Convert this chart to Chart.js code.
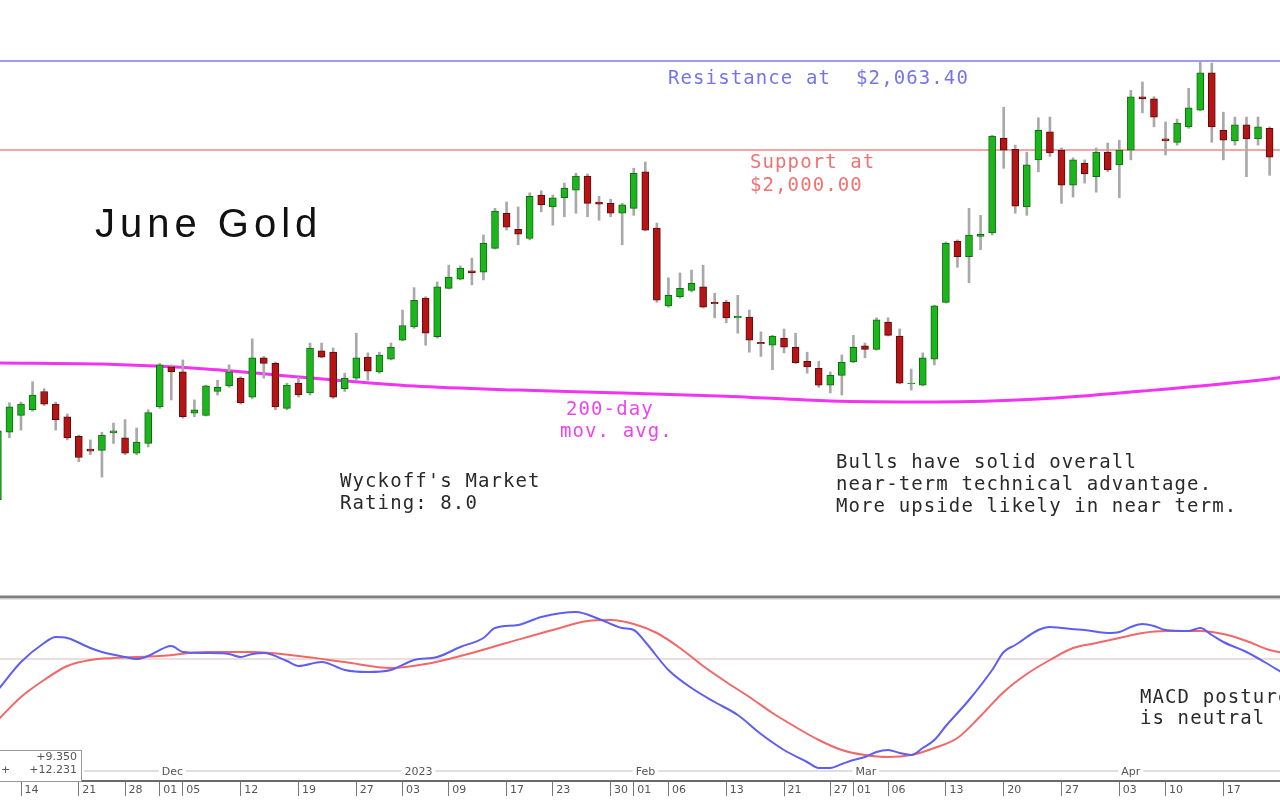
<!DOCTYPE html>
<html>
<head>
<meta charset="utf-8">
<script src="https://cdn.jsdelivr.net/npm/chart.js@4.4.0/dist/chart.umd.min.js"></script>
<style>
  html, body { margin: 0; padding: 0; background: #fff; }
  canvas { display: block; }
</style>
</head>
<body>
<canvas id="goldChart" width="1280" height="805"></canvas>
<script>
// June gold daily bars, Nov 10 2022 .. Apr 21 2023 (one entry per trading day)
const opens = [1751, 1799, 1811, 1815, 1828, 1819, 1810, 1796, 1787, 1786,
  1798.5, 1795, 1784, 1791, 1817, 1845.5, 1842, 1812.5, 1811, 1828,
  1832, 1837.5, 1824, 1852, 1848, 1816, 1834, 1827, 1857, 1856,
  1830, 1837.5, 1852.5, 1842, 1851, 1864.5, 1874, 1894.5, 1867, 1901.5,
  1908, 1914, 1913, 1930, 1955, 1943.5, 1937, 1968, 1959.5, 1966,
  1971.5, 1981.5, 1963, 1962, 1955, 1958.5, 1984.5, 1944.5, 1889, 1895.5,
  1900, 1902.5, 1891.5, 1891.5, 1880.5, 1881, 1863, 1861, 1866, 1859.5,
  1849.5, 1844.5, 1832.5, 1839.5, 1849, 1860.5, 1858, 1877.5, 1867.5, 1833.5,
  1832.5, 1851, 1891.5, 1935, 1924, 1938.5, 1941, 2008.5, 2000.5, 1959.5,
  1993, 2013, 2000, 1975, 1990.5, 1981, 1998.5, 1989.5, 2000, 2038,
  2036.5, 2008, 2005.5, 2016.5, 2028.5, 2055, 2014, 2006.5, 2018, 2008,
  2015.5];
const highs = [1802, 1820, 1820.5, 1835, 1830, 1820.5, 1812, 1797, 1793.5, 1799,
  1805.5, 1808, 1802, 1815, 1848, 1847, 1850.5, 1822, 1832.5, 1836,
  1847, 1838.5, 1865.5, 1853, 1849, 1834, 1838, 1862.5, 1862.5, 1859,
  1841, 1869.5, 1855.5, 1856, 1862.5, 1886, 1902, 1895.5, 1906, 1918,
  1917.5, 1923, 1939.5, 1958.5, 1963, 1959.5, 1969.5, 1971, 1968, 1976.5,
  1983.5, 1983, 1967, 1965, 1962, 1987, 1991.5, 1948, 1909, 1912.5,
  1914.5, 1918, 1898, 1893, 1896.5, 1886, 1870.5, 1868, 1872.5, 1869.5,
  1856, 1849.5, 1842, 1854, 1868, 1862.5, 1880.5, 1880.5, 1872.5, 1844,
  1855.5, 1889.5, 1934.5, 1936, 1958.5, 1953.5, 2010.5, 2030.5, 2003.5, 1998.5,
  2023, 2023.5, 2001.5, 1994.5, 1993, 2001.5, 2005, 2007, 2042.5, 2048.5,
  2038, 2020, 2022, 2044, 2063, 2062, 2027, 2023.5, 2023.5, 2023.5,
  2016.5];
const lows = [1749, 1795, 1800.5, 1814, 1818, 1800.5, 1793.5, 1778, 1783, 1767,
  1791, 1783, 1783, 1788.5, 1816, 1822, 1809, 1810, 1810.5, 1825.5,
  1831, 1819, 1823, 1837.5, 1815, 1815, 1824, 1825.5, 1852, 1823,
  1828, 1836, 1836, 1841, 1850.5, 1864, 1873, 1861, 1866, 1901,
  1907.5, 1904, 1907.5, 1929.5, 1943, 1932.5, 1936, 1956, 1946.5, 1952.5,
  1955, 1952.5, 1950, 1952.5, 1932.5, 1953.5, 1942.5, 1891.5, 1888, 1894.5,
  1899, 1887.5, 1880.5, 1877, 1869.5, 1856, 1853, 1843.5, 1855.5, 1848,
  1841, 1831, 1827, 1825.5, 1848.5, 1852, 1857.5, 1867.5, 1833.5, 1829,
  1832, 1847, 1891, 1916.5, 1905.5, 1929, 1939.5, 1987, 1955, 1953.5,
  1984.5, 1995.5, 1962, 1966.5, 1976.5, 1970, 1984.5, 1966, 1993, 2026.5,
  2016.5, 1996.5, 2003.5, 2015.5, 2028, 2005.5, 1993, 2003.5, 1981, 2003.5,
  1982];
const closes = [1800, 1817, 1819, 1825.5, 1819, 1808, 1795, 1781, 1785.5, 1797,
  1800, 1784, 1792, 1813, 1847, 1842, 1810, 1815, 1832, 1831,
  1842, 1820, 1852, 1848, 1817, 1832.5, 1825.5, 1859, 1852.5, 1824,
  1837.5, 1852, 1842.5, 1854, 1859.5, 1875, 1893, 1869.5, 1902.5, 1909.5,
  1916, 1912.5, 1933.5, 1956.5, 1945, 1940, 1967, 1961, 1966, 1973,
  1981.5, 1962, 1961.5, 1955, 1961, 1983.5, 1943, 1893, 1896.5, 1901.5,
  1905, 1888, 1890.5, 1880.5, 1881.5, 1864.5, 1862, 1867.5, 1859.5, 1848.5,
  1845.5, 1832.5, 1839.5, 1849, 1859.5, 1858, 1879, 1868, 1834, 1834,
  1852, 1889, 1933.5, 1924, 1939.5, 1940, 2010, 2000, 1960, 1989.5,
  2014, 1998, 1975, 1993, 1983, 1998.5, 1986, 2000, 2038, 2036.5,
  2023.5, 2006.5, 2019, 2030, 2055, 2016.5, 2007, 2018, 2008, 2016.5,
  1995];

// 200-day moving average, read at a handful of bars (111 = right edge)
const maPos = [0, 9, 18, 27, 36, 45, 54, 63, 72, 81, 90, 99, 110, 111];
const maValues = [1848.3, 1847.5, 1844, 1837.6, 1831.9, 1829, 1826.9, 1824.7, 1821.2, 1820.5, 1822.6, 1828.3, 1836.9, 1838.0];

// MACD (blue) and signal (red) lines
const macdPos = [0, 2, 4, 5, 6, 8, 9, 11, 12, 13, 15, 16, 18, 20, 21, 22, 23, 25, 26, 28,
  30, 32, 34, 36, 38, 40, 42, 43, 45, 47, 50, 52, 54, 55, 56, 58, 60, 62, 64, 66,
  68, 70, 71, 72, 73, 74, 75, 76, 77, 78, 79, 80, 81, 82, 84, 86, 87, 88, 90, 91,
  92, 94, 96, 97, 98, 99, 100, 101, 103, 104, 105, 106, 108, 110, 111];
const macdValues = [-6.2, -0.6, 3.2, 4.4, 4.2, 2.2, 1.4, 0.4, 0, 0.6, 2.6, 1.4, 1.2, 1.0, 0.4, 1.0, 1.2, -0.4, -1.4, -0.6,
  -2.2, -2.6, -2.2, -0.2, 0.4, 2.4, 4.2, 6.2, 6.8, 8.4, 9.4, 8.0, 6.2, 5.8, 3.4, -2.2, -5.8, -8.6, -11.2, -15.0,
  -18.2, -20.6, -21.8, -21.8, -21.0, -20.2, -19.6, -18.6, -18.2, -18.8, -19.2, -17.8, -16.2, -13.4, -8.2, -2.2, 1.4, 2.8, 5.8, 6.4,
  6.2, 5.8, 5.2, 5.4, 6.4, 7.0, 6.6, 5.8, 5.6, 6.2, 4.8, 3.4, 1.4, -1.2, -2.6];
const signalPos = [0, 2, 4, 6, 8, 10, 14, 18, 22, 26, 30, 34, 37, 40, 44, 48, 51, 53, 55, 57,
  59, 61, 63, 65, 67, 69, 71, 73, 75, 77, 79, 81, 83, 85, 87, 89, 91, 93, 95, 97,
  99, 101, 104, 106, 108, 110, 111];
const signalValues = [-12.2, -7.6, -4.2, -1.4, -0.2, 0.2, 0.6, 1.4, 1.4, 0.6, -0.6, -1.8, -1.0, 0.6, 3.2, 5.8, 7.6, 7.8, 7.0, 5.2,
  2.2, -1.4, -4.6, -7.6, -10.8, -13.6, -16.2, -18.2, -19.2, -19.6, -19.2, -17.8, -15.8, -11.4, -6.6, -3.0, -0.2, 2.2, 3.2, 4.2,
  5.2, 5.6, 5.6, 5.0, 3.6, 1.8, 1.3];

// x axis labels
const tickPos = [2, 7, 11, 14, 16, 21, 26, 31, 35, 39, 44, 48, 53, 55, 58, 63, 68, 72, 74, 77, 82, 87, 92, 97, 101, 106];
const tickLabels = ['14', '21', '28', '01', '05', '12', '19', '27', '03', '09', '17', '23', '30', '01', '06', '13', '21', '27', '01', '06', '13', '20', '27', '03', '10', '17'];
const monthPos = [14, 35, 55, 74, 97];
const monthLabels = ['Dec', '2023', 'Feb', 'Mar', 'Apr'];

const resistance = 2063.40;
const support = 2000.00;
const macdLegend = ['+9.350', '+12.231'];

const upColor = '#1db51d';
const downColor = '#b51515';
const monoFont = '19px "DejaVu Sans Mono"';

const wickData = opens.map((o, i) => ({ x: i, y: [lows[i], highs[i]] }));
const bodyData = opens.map((o, i) => ({ x: i, y: [o, closes[i]] }));
const isUp = i => closes[i] >= opens[i];

function hline(ctx, area, y, color, width) {
    ctx.beginPath();
    ctx.strokeStyle = color;
    ctx.lineWidth = width;
    ctx.moveTo(area.left, y);
    ctx.lineTo(area.right, y);
    ctx.stroke();
}

function textLines(ctx, lines, x, y, color, step) {
    ctx.fillStyle = color;
    lines.forEach((t, k) => ctx.fillText(t, x, y + k * step));
}

const decorations = {
    id: 'decorations',
    beforeDatasetsDraw(chart) {
        const { ctx, chartArea, scales } = chart;
        ctx.save();
        hline(ctx, chartArea, scales.yPrice.getPixelForValue(resistance), '#9c9cf4', 2);
        hline(ctx, chartArea, scales.yPrice.getPixelForValue(support), '#f5a5a5', 2);
        hline(ctx, chartArea, scales.yMacd.getPixelForValue(0), '#ecdcdc', 2);
        ctx.restore();
    },
    afterDatasetsDraw(chart) {
        const { ctx, chartArea, scales } = chart;
        const yP = scales.yPrice, x = scales.x;
        ctx.save();

        // pane divider
        hline(ctx, chartArea, yP.bottom, '#808080', 3);
        hline(ctx, chartArea, yP.bottom + 2, '#cfcfcf', 1);

        ctx.textBaseline = 'middle';
        ctx.font = '40px "Liberation Sans"';
        ctx.letterSpacing = '5px';
        ctx.fillStyle = '#111';
        ctx.fillText('June Gold', 95, 226);

        ctx.font = monoFont;
        ctx.letterSpacing = '1.1px';
        textLines(ctx, ['Resistance at  $2,063.40'], 668, 79, '#7474ee', 22);
        textLines(ctx, ['Support at', '$2,000.00'], 750, 163, '#f07272', 23);
        textLines(ctx, ['200-day'], 566, 410, '#ee44ee', 22);
        textLines(ctx, ['mov. avg.'], 560, 432, '#ee44ee', 22);
        textLines(ctx, ["Wyckoff's Market", 'Rating: 8.0'], 340, 482, '#2a2a2a', 22);
        textLines(ctx, ['Bulls have solid overall', 'near-term technical advantage.', 'More upside likely in near term.'], 836, 463, '#2a2a2a', 22);
        textLines(ctx, ['MACD posture', 'is neutral'], 1140, 698, '#2a2a2a', 21);

        // month row above the date axis
        ctx.font = '11px "DejaVu Sans"';
        ctx.letterSpacing = '0px';
        const rowY = 772;
        let lineStart = 84;
        monthPos.forEach((p, k) => {
            const px = x.getPixelForValue(p) + 2;
            const w = ctx.measureText(monthLabels[k]).width;
            ctx.strokeStyle = '#d4d4d4';
            ctx.lineWidth = 1.5;
            ctx.beginPath();
            ctx.moveTo(lineStart, rowY - 1);
            ctx.lineTo(px - 3, rowY - 1);
            ctx.stroke();
            ctx.fillStyle = '#555';
            ctx.fillText(monthLabels[k], px, rowY);
            lineStart = px + w + 3;
        });
        ctx.beginPath();
        ctx.moveTo(lineStart, rowY - 1);
        ctx.lineTo(chartArea.right, rowY - 1);
        ctx.stroke();

        // MACD value box, bottom left
        ctx.fillStyle = '#fff';
        ctx.fillRect(0, 750, 82, 31);
        ctx.strokeStyle = '#999';
        ctx.lineWidth = 1;
        ctx.strokeRect(-1, 750.5, 82.5, 31);
        ctx.fillStyle = '#555';
        ctx.textAlign = 'right';
        ctx.fillText(macdLegend[0], 77, 757);
        ctx.fillText(macdLegend[1], 77, 770);
        ctx.textAlign = 'left';
        ctx.fillText('+', 1, 770);
        ctx.restore();
    }
};

const goldChart = new Chart(document.getElementById('goldChart'), {
    type: 'bar',
    data: {
        datasets: [
            {
                label: 'Body',
                data: bodyData,
                yAxisID: 'yPrice',
                grouped: false,
                barThickness: 7,
                borderWidth: 1,
                borderSkipped: false,
                backgroundColor: ctx => isUp(ctx.dataIndex) ? upColor : downColor,
                borderColor: ctx => isUp(ctx.dataIndex) ? '#0c6e0c' : '#5e0a0a',
                order: 1
            },
            {
                label: 'Range',
                data: wickData,
                yAxisID: 'yPrice',
                grouped: false,
                barThickness: 2,
                borderWidth: 0,
                backgroundColor: '#a9a9a9',
                order: 2
            },
            {
                type: 'line',
                label: '200-day mov. avg.',
                data: maPos.map((p, k) => ({ x: p, y: maValues[k] })),
                yAxisID: 'yPrice',
                borderColor: '#f234f2',
                borderWidth: 3,
                pointRadius: 0,
                cubicInterpolationMode: 'monotone',
                order: 3
            },
            {
                type: 'line',
                label: 'MACD',
                data: macdPos.map((p, k) => ({ x: p, y: macdValues[k] })),
                yAxisID: 'yMacd',
                borderColor: '#5e5ef2',
                borderWidth: 2,
                pointRadius: 0,
                cubicInterpolationMode: 'monotone',
                order: 4
            },
            {
                type: 'line',
                label: 'Signal',
                data: signalPos.map((p, k) => ({ x: p, y: signalValues[k] })),
                yAxisID: 'yMacd',
                borderColor: '#f26868',
                borderWidth: 2,
                pointRadius: 0,
                cubicInterpolationMode: 'monotone',
                order: 5
            }
        ]
    },
    options: {
        responsive: false,
        animation: false,
        events: [],
        layout: { padding: 0 },
        plugins: {
            legend: { display: false },
            tooltip: { enabled: false }
        },
        scales: {
            x: {
                type: 'linear',
                min: 0.183,
                max: 110.9,
                offset: false,
                afterBuildTicks: scale => { scale.ticks = tickPos.map(v => ({ value: v })); },
                afterFit: scale => { scale.height = 24; },
                border: { display: true, color: '#6a6a6a', width: 2 },
                grid: {
                    offset: false,
                    drawOnChartArea: false,
                    drawTicks: true,
                    tickLength: 15,
                    color: '#777',
                    lineWidth: 1
                },
                ticks: {
                    autoSkip: false,
                    maxRotation: 0,
                    align: 'start',
                    padding: -12,
                    color: '#555',
                    font: { family: 'DejaVu Sans', size: 11 },
                    callback: value => ' ' + tickLabels[tickPos.indexOf(value)]
                }
            },
            yMacd: {
                type: 'linear',
                position: 'left',
                stack: 'panes',
                stackWeight: 184,
                min: -24.4,
                max: 12.4,
                afterFit: scale => { scale.width = 0; },
                ticks: { display: false },
                grid: { display: false, drawTicks: false },
                border: { display: false }
            },
            yPrice: {
                type: 'linear',
                position: 'left',
                stack: 'panes',
                stackWeight: 597,
                min: 1681.6,
                max: 2106.9,
                afterFit: scale => { scale.width = 0; },
                ticks: { display: false },
                grid: { display: false, drawTicks: false },
                border: { display: false }
            }
        }
    },
    plugins: [decorations]
});
</script>
</body>
</html>
